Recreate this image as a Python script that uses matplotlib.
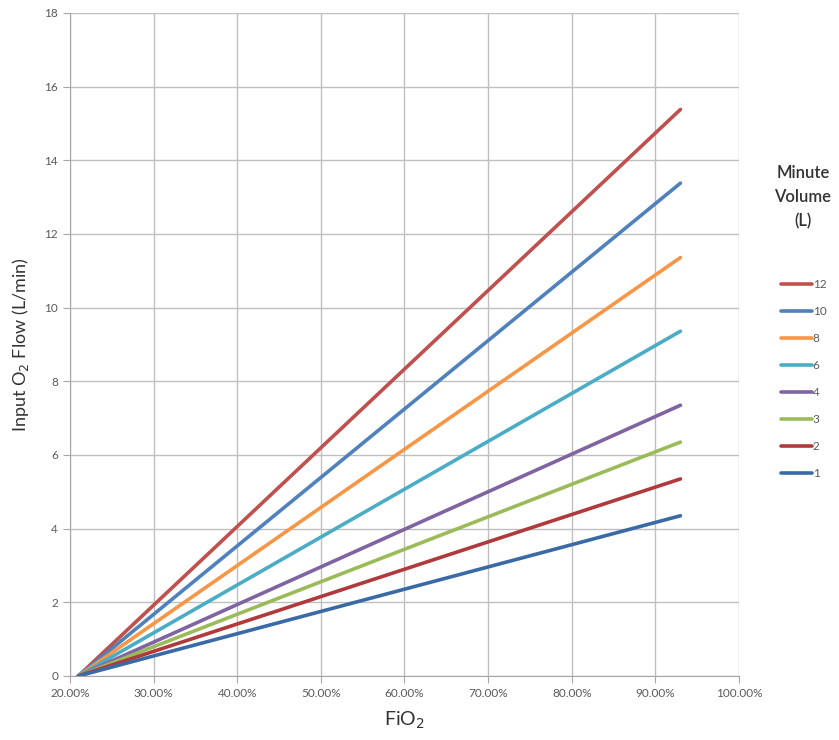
import matplotlib.pyplot as plt
from matplotlib.ticker import FuncFormatter

plt.rcParams['font.family'] = ['Lato', 'DejaVu Sans']

# 数据：每条线的起点和终点 (FiO2, 流量)
fio2 = [0.21, 0.93]
minute_volume = ["12", "10", "8", "6", "4", "3", "2", "1"]
flow_end = [15.38, 13.38, 11.36, 9.36, 7.35, 6.35, 5.35, 4.35]
colors = ["#c0504d", "#4f81bd", "#f79646", "#4bacc6",
          "#8064a2", "#9bbb59", "#b0393b", "#3a6aa6"]

fig = plt.figure(figsize=(8.39, 7.40), dpi=100)
ax = fig.add_axes([0.0834, 0.0865, 0.7974, 0.896])

for mv, end, c in zip(minute_volume, flow_end, colors):
    ax.plot(fio2, [0, end], color=c, lw=2.6, solid_capstyle='round', label=mv)

ax.set_xlim(0.2, 1.0)
ax.set_ylim(0, 18)
ax.set_xticks([0.2 + 0.1 * i for i in range(9)])
ax.set_yticks(range(0, 19, 2))
ax.xaxis.set_major_formatter(FuncFormatter(lambda v, p: f"{v * 100:.2f}%"))
ax.grid(True, color="#bfbfbf", lw=1)
ax.set_axisbelow(True)
for s in ["top", "right"]:
    ax.spines[s].set_visible(False)
for s in ["left", "bottom"]:
    ax.spines[s].set_color("#a6a6a6")
ax.tick_params(colors="#a6a6a6", labelcolor="#595959", labelsize=8.5, length=5)

ax.set_xlabel("FiO$_2$", fontsize=14, color="#333333", labelpad=8)
ax.set_ylabel("Input O$_2$ Flow (L/min)", fontsize=13, color="#333333", labelpad=10)

# 图例标题单独放置
fig.text(0.957, 0.777, "Minute\nVolume\n(L)", ha="center", va="top",
         fontsize=12, fontweight="semibold", color="#333333",
         linespacing=1.6, multialignment="center")

leg = fig.legend(loc="upper left", bbox_to_anchor=(0.918, 0.637), frameon=False,
                 fontsize=8.5, handlelength=2.6, handletextpad=0.1,
                 labelspacing=1.35)
plt.setp(leg.get_texts(), color="#595959")

fig.savefig("out.png", dpi=100)
